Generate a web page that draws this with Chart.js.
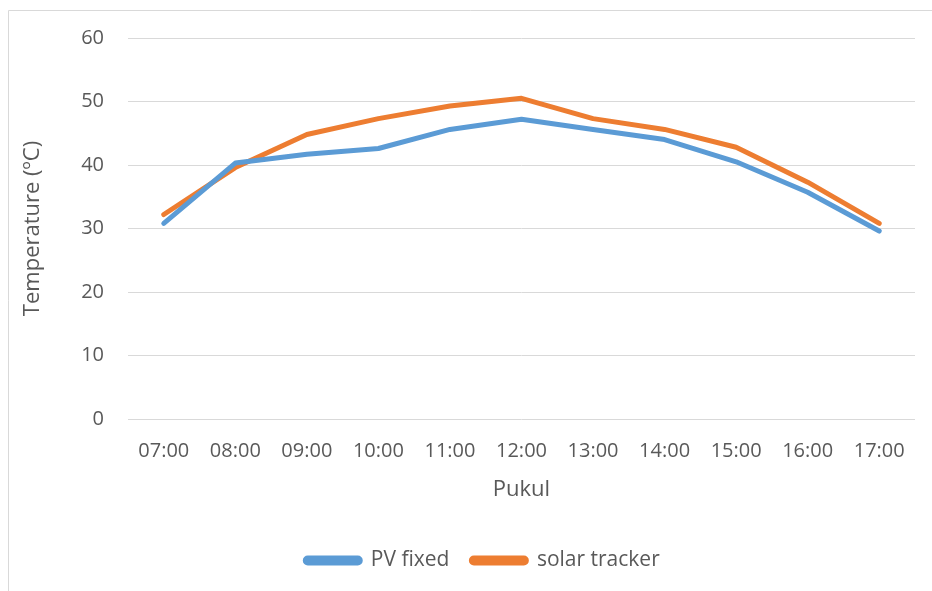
<!DOCTYPE html>
<html>
<head>
<meta charset="utf-8">
<script src="https://cdn.jsdelivr.net/npm/chart.js@4/dist/chart.umd.min.js"></script>
<style>
  html, body { margin: 0; padding: 0; background: #ffffff; }
  #wrap { position: relative; width: 932px; height: 591px; }
</style>
</head>
<body>
<div id="wrap"><canvas id="c" width="932" height="591"></canvas></div>
<script>
// Hourly panel temperatures (°C)
const hours = ['07:00', '08:00', '09:00', '10:00', '11:00', '12:00', '13:00', '14:00', '15:00', '16:00', '17:00'];
const pvFixed = [30.8, 40.3, 41.7, 42.6, 45.6, 47.2, 45.6, 44.0, 40.5, 35.7, 29.6];
const solarTracker = [32.2, 39.6, 44.8, 47.3, 49.3, 50.5, 47.3, 45.6, 42.8, 37.3, 30.8];
const yTicks = [0, 10, 20, 30, 40, 50, 60];

const FONT = "'Open Sans', sans-serif";
const TEXT = '#595959';
const GRID = '#d9d9d9';

// Thin frame along the top and left edges of the chart
const framePlugin = {
  id: 'frame',
  beforeDraw(chart) {
    const ctx = chart.ctx;
    ctx.save();
    ctx.strokeStyle = GRID;
    ctx.lineWidth = 1;
    ctx.beginPath();
    ctx.moveTo(8.5, 591);
    ctx.lineTo(8.5, 10.5);
    ctx.lineTo(932, 10.5);
    ctx.stroke();
    ctx.restore();
  }
};

// Nudge the legend row right and up
const legendShift = {
  id: 'legendShift',
  afterLayout(chart) {
    const lg = chart.legend;
    if (lg) {
      lg.left += 25; lg.right += 25;
      lg.top -= 10; lg.bottom -= 10;
    }
  }
};

new Chart(document.getElementById('c'), {
  type: 'line',
  data: {
    labels: hours,
    datasets: [
      {
        label: 'PV fixed',
        data: pvFixed,
        borderColor: '#5B9BD5',
        backgroundColor: '#5B9BD5',
        borderWidth: 5,
        pointRadius: 0,
        borderCapStyle: 'round',
        borderJoinStyle: 'round',
        tension: 0
      },
      {
        label: 'solar tracker',
        data: solarTracker,
        borderColor: '#ED7D31',
        backgroundColor: '#ED7D31',
        borderWidth: 5,
        pointRadius: 0,
        borderCapStyle: 'round',
        borderJoinStyle: 'round',
        tension: 0
      }
    ]
  },
  options: {
    responsive: false,
    animation: false,
    devicePixelRatio: 1,
    layout: { padding: { left: 0, right: 17, top: 38, bottom: 0 } },
    plugins: {
      tooltip: { enabled: false },
      legend: {
        position: 'bottom',
        labels: {
          font: { family: FONT, size: 21 },
          color: TEXT,
          boxWidth: 55,
          boxHeight: 5,
          useBorderRadius: true,
          borderRadius: 2.5,
          padding: 22
        }
      }
    },
    scales: {
      x: {
        offset: true,
        grid: { display: false, drawTicks: false },
        border: { display: false },
        ticks: { font: { family: FONT, size: 20 }, color: TEXT, padding: 20, maxRotation: 0, autoSkip: false },
        title: { display: true, text: 'Pukul', font: { family: FONT, size: 22 }, color: TEXT, padding: { top: 0, bottom: 35 } },
        afterFit(scale) { scale.height = 119; }
      },
      y: {
        min: 0,
        max: 60,
        afterBuildTicks(scale) { scale.ticks = yTicks.map(v => ({ value: v })); },
        grid: { color: GRID, lineWidth: 1, drawTicks: false },
        border: { display: false },
        ticks: { font: { family: FONT, size: 20 }, color: TEXT, padding: 24 },
        title: { display: true, text: 'Temperature (ºC)', font: { family: FONT, size: 22 }, color: TEXT, padding: { top: 20, bottom: 0 } },
        afterFit(scale) { scale.width = 128; }
      }
    }
  },
  plugins: [framePlugin, legendShift]
});
</script>
</body>
</html>
